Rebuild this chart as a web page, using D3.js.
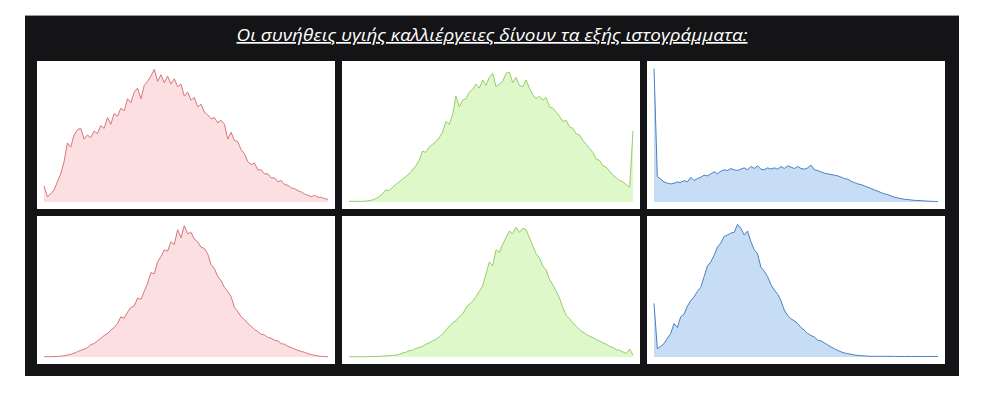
<!DOCTYPE html>
<html>
<head>
<meta charset="utf-8">
<script src="https://cdn.jsdelivr.net/npm/d3@7"></script>
<style>
  body { margin: 0; background: #fff; }
  svg { display: block; }
</style>
</head>
<body>
<svg width="986" height="394"></svg>
<script>
const width = 986, height = 394;

const title = "Οι συνήθεις υγιής καλλιέργειες δίνουν τα εξής ιστογράμματα:";

// histogram heights, 0..100 of each panel
const redTop = [12, 4, 6, 9, 15, 21, 30, 44, 41, 50, 54, 55, 47, 50, 48, 53, 51, 57, 55, 63, 58, 66, 64, 70, 68, 77, 74, 82, 85, 77,
  87, 90, 94, 99, 90, 95, 89, 94, 88, 92, 86, 88, 79, 82, 76, 78, 71, 73, 67, 65, 62, 63, 59, 61, 58, 47, 52, 46, 45, 39,
  36, 30, 28, 29, 24, 24, 21, 21, 18, 18, 15, 16, 13, 12.5, 10.5, 10, 8.5, 7.5, 6, 5, 4, 5, 3.5, 3.5, 2.5, 2];
const greenTop = [0.5, 0.5, 0.5, 0.5, 0.5, 0.7, 1, 1.5, 2.5, 4, 6, 9, 8.5, 11, 13, 15, 17, 19, 21, 24, 27, 31, 38, 37, 41, 43, 45, 48, 52, 60,
  58, 65, 79, 71, 76, 77, 82, 84, 88, 85, 91, 87, 93, 96, 86, 88, 90, 96, 97, 89, 93, 87, 86, 91, 85, 80, 77, 79, 76, 78,
  71, 70, 67, 64, 60, 61, 56, 55, 51, 50, 46, 43, 40, 37, 32, 31, 27, 26, 23, 20, 18, 16, 15, 13, 11, 53];
const blueTop = [99.5, 19, 17, 15, 14, 13.5, 14, 15, 14.5, 16, 15, 18.5, 16, 17.5, 18.5, 20, 19.5, 21, 22.5, 21, 23, 24, 23.5, 25, 24, 23.5, 24.5, 25.5, 24, 26.5,
  25, 27, 24.5, 24, 25.5, 24.5, 25.5, 24.5, 26.5, 25, 27, 26, 25, 26.5, 25, 24.5, 25.5, 27.5, 24, 23.5, 22.5, 21.5, 21, 20.5, 20, 19.5, 18.5, 17.5, 17, 15.5,
  14.5, 13.5, 13, 12, 11, 10, 9, 8, 7, 6, 5.5, 4.5, 3.5, 3, 2.5, 2, 1.8, 1.5, 1.2, 1.1, 1, 0.8, 0.6, 0.5, 0.4, 0.3];
const redBottom = [0.2, 0.2, 0.2, 0.3, 0.4, 0.6, 0.9, 1.5, 2, 2.8, 4, 5, 5.8, 7, 9.2, 10, 12, 14, 16, 17.5, 20, 22, 25, 30, 29, 33.5, 37, 38, 44, 43,
  49, 55, 63, 62, 71, 75, 80, 79, 86, 84, 95, 89, 98, 92, 93, 88, 86, 82, 81, 77, 69, 66, 60, 57, 52, 49, 45, 37, 34, 30,
  28, 25, 23, 20.5, 19, 17, 16.5, 14.5, 14, 12.5, 12, 10, 9.5, 8, 7, 6, 5, 4.2, 3.5, 2.5, 1.8, 1.2, 0.8, 0.5, 0.3, 0.2];
const greenBottom = [0.2, 0.2, 0.2, 0.2, 0.2, 0.3, 0.3, 0.4, 0.4, 0.5, 0.6, 0.8, 1, 1.2, 1.5, 2, 3, 3.5, 4.8, 5, 6.5, 7, 8, 9.5, 10.5, 12, 13, 15, 17, 20,
  23, 25.5, 27, 30, 32, 36.5, 39.5, 41.5, 45, 49, 53, 62, 71, 68, 80, 78, 84, 89, 94, 92, 97, 93, 96, 95, 89, 83, 77, 74, 68, 65,
  58, 54, 49, 44, 37, 31, 28.5, 25.5, 23, 20.5, 18.5, 17, 15.5, 14.5, 13, 12, 10.5, 9.5, 8, 7, 5.5, 5, 3.8, 2.5, 6, 1.5];
const blueBottom = [40, 6.2, 8, 10, 14, 17.5, 25, 22, 30, 32, 38, 42, 45, 49, 52, 60, 68, 71, 76, 82, 85, 90, 91, 92.5, 93, 99, 96, 91, 94, 86,
  80, 77, 67, 64, 60, 54, 50, 47, 42, 35, 31, 28.5, 27, 25, 22, 20, 17.5, 16, 15, 12.5, 12, 10.5, 9, 7.5, 6.2, 5, 3.8, 3, 2.5, 2,
  1.5, 1.2, 1, 0.8, 0.6, 0.5, 0.5, 0.5, 0.5, 0.5, 0.5, 0.5, 0.4, 0.4, 0.4, 0.4, 0.4, 0.4, 0.4, 0.4, 0.4, 0.4, 0.4, 0.4, 0.4, 0.4];

const colours = [
  {line: "#d9767d", fill: "#fcdfe0"},
  {line: "#9acb6c", fill: "#dff8c9"},
  {line: "#4a80c2", fill: "#c7ddf6"}
];

const panels = [
  {row: 0, col: 0, values: redTop},
  {row: 0, col: 1, values: greenTop},
  {row: 0, col: 2, values: blueTop},
  {row: 1, col: 0, values: redBottom},
  {row: 1, col: 1, values: greenBottom},
  {row: 1, col: 2, values: blueBottom}
];

const svg = d3.select("svg");

// dark frame
svg.append("rect").attr("x", 25).attr("y", 15).attr("width", 934).attr("height", 361).attr("fill", "#141416");
svg.append("line").attr("x1", 25).attr("x2", 959).attr("y1", 15.5).attr("y2", 15.5).attr("stroke", "#9a9a9a");

svg.append("text")
  .attr("x", 492).attr("y", 41)
  .attr("text-anchor", "middle")
  .attr("fill", "#fff")
  .attr("font-family", "'Open Sans', 'DejaVu Sans', sans-serif")
  .attr("font-style", "italic")
  .attr("font-size", 17)
  .attr("textLength", 511)
  .attr("lengthAdjust", "spacingAndGlyphs")
  .style("text-decoration", "underline")
  .text(title);

const colX = d3.scaleBand().domain([0, 1, 2]).range([37, 945]).paddingInner(7 / 305);
const rowY = d3.scaleBand().domain([0, 1]).range([61, 364]).paddingInner(7 / 155);
const inset = 7;

panels.forEach(p => {
  const x0 = colX(p.col), y0 = rowY(p.row);
  const w = colX.bandwidth(), h = rowY.bandwidth();
  const c = colours[p.col];

  const x = d3.scaleLinear().domain([0, p.values.length - 1]).range([x0 + inset, x0 + w - inset]);
  const y = d3.scaleLinear().domain([0, 100]).range([y0 + h - inset, y0 + inset]);

  const g = svg.append("g");
  g.append("rect").attr("x", x0).attr("y", y0).attr("width", w).attr("height", h).attr("fill", "#fff");

  g.append("path")
    .datum(p.values)
    .attr("fill", c.fill)
    .attr("d", d3.area().x((d, i) => x(i)).y0(y(0)).y1(d => y(d)));

  g.append("path")
    .datum(p.values)
    .attr("fill", "none")
    .attr("stroke", c.line)
    .attr("stroke-width", 1)
    .attr("stroke-linejoin", "round")
    .attr("d", d3.line().x((d, i) => x(i)).y(d => y(d)));
});
</script>
</body>
</html>
